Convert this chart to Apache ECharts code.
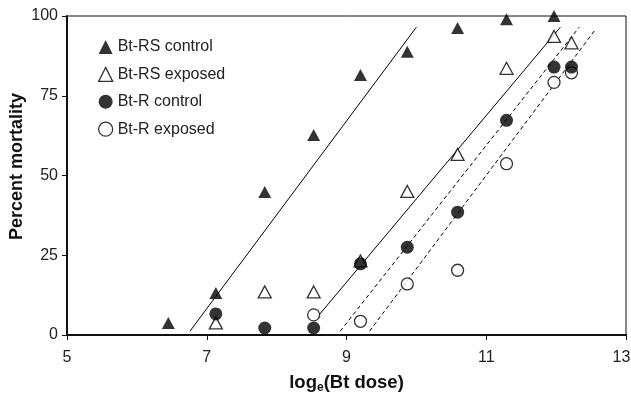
<!DOCTYPE html>
<html>
<head>
<meta charset="utf-8">
<script src="https://cdn.jsdelivr.net/npm/echarts@6/dist/echarts.min.js"></script>
<style>
    html, body { margin: 0; padding: 0; background: #fff; }
    #chart { width: 631px; height: 395px; }
</style>
</head>
<body>
<div id="chart"></div>
<script>
// Bt-RS control (filled triangles)
const rsControlX = [6.45, 7.13, 7.83, 8.53, 9.2, 9.87, 10.59, 11.29, 11.97];
const rsControlY = [3.8, 13.2, 44.8, 62.7, 81.5, 88.8, 96.2, 99, 100];
// Bt-RS exposed (open triangles)
const rsExposedX = [7.13, 7.83, 8.53, 9.2, 9.87, 10.59, 11.29, 11.97, 12.22];
const rsExposedY = [3.8, 13.5, 13.5, 23.2, 45, 56.6, 83.6, 93.6, 91.6];
// Bt-R control (filled circles)
const rControlX = [7.13, 7.83, 8.53, 9.2, 9.87, 10.59, 11.29, 11.97, 12.22];
const rControlY = [6.6, 2.2, 2.2, 22.3, 27.5, 38.5, 67.3, 84, 84];
// Bt-R exposed (open circles)
const rExposedX = [8.53, 9.2, 9.87, 10.59, 11.29, 11.97, 12.22];
const rExposedY = [6.3, 4.3, 16, 20.3, 53.7, 79.2, 82.2];

// fitted regression lines, end points [x, y]
const fitRsControl = [[6.76, 1.2], [10.0, 96.5]];
const fitRsExposed = [[8.57, 5.3], [12.06, 96.5]];
const fitRControl = [[8.91, 1.2], [12.33, 96.5]];
const fitRExposed = [[9.33, 1.2], [12.57, 96]];

const xTicks = [5, 7, 9, 11, 13];
const yTicks = [0, 25, 50, 75, 100];

const legendNames = ['Bt-RS control', 'Bt-RS exposed', 'Bt-R control', 'Bt-R exposed'];

const zip = (xs, ys) => xs.map((x, i) => [x, ys[i]]);

const chart = echarts.init(document.getElementById('chart'), null, { renderer: 'canvas' });

// 拟合线
function fitLine(points, dashed) {
    return {
        type: 'line',
        data: points,
        symbol: 'none',
        silent: true,
        lineStyle: {
            color: '#000',
            width: 1,
            type: dashed ? [4, 3] : 'solid'
        },
        z: 1
    };
}

function scatter(name, xs, ys, symbol, filled, size) {
    return {
        name: name,
        type: 'scatter',
        data: zip(xs, ys),
        symbol: symbol,
        symbolSize: size,
        itemStyle: {
            color: filled ? '#000' : '#fff',
            borderColor: '#000',
            borderWidth: filled ? 0 : 1.3
        },
        z: 3
    };
}

const option = {
    animation: false,
    textStyle: { fontFamily: 'Liberation Sans, Arial, sans-serif' },
    grid: {
        left: 67,
        right: 5,
        top: 16,
        bottom: 60,
        outerBoundsMode: 'none',
        containLabel: false,
        show: true,
        borderColor: '#111',
        borderWidth: 1
    },
    legend: {
        data: legendNames.map((n, i) => ({
            name: n,
            icon: i < 2 ? 'triangle' : 'circle',
            itemStyle: i % 2 === 0
                ? { color: '#000', borderWidth: 0 }
                : { color: '#fff', borderColor: '#000', borderWidth: 1.3 }
        })),
        orient: 'vertical',
        left: 93,
        top: 34,
        itemWidth: 14,
        itemHeight: 14,
        itemGap: 11.4,
        textStyle: {
            fontSize: 16,
            color: '#222'
        }
    },
    xAxis: {
        type: 'value',
        min: 5,
        max: 13,
        interval: 2,
        name: '{b|log}{s|e}{b|(Bt dose)}',
        nameLocation: 'middle',
        nameGap: 36,
        nameTextStyle: {
            rich: {
                b: { fontSize: 18.5, fontWeight: 'bold', color: '#111' },
                s: { fontSize: 12, fontWeight: 'bold', color: '#111', padding: [11, 0, 0, 0] }
            }
        },
        axisLine: { show: true, onZero: false, lineStyle: { color: '#111', width: 2 } },
        axisTick: { show: true, length: 5, lineStyle: { color: '#111', width: 1 } },
        axisLabel: {
            fontSize: 16,
            color: '#222',
            margin: 15,
            customValues: xTicks,
            formatter: (v) => (v === 13 ? '{r|13}' : String(v)),
            rich: {
                r: { fontSize: 16, color: '#222', padding: [0, 9, 0, 0] }
            }
        },
        splitLine: { show: false }
    },
    yAxis: {
        type: 'value',
        min: 0,
        max: 100,
        interval: 25,
        name: 'Percent mortality',
        nameLocation: 'middle',
        nameRotate: 90,
        nameGap: 41,
        nameMoveOverlap: false,
        nameTextStyle: { fontSize: 18, fontWeight: 'bold', color: '#111', padding: [0, 0, 0, 18] },
        axisLine: { show: true, onZero: false, lineStyle: { color: '#111', width: 2 } },
        axisTick: { show: true, length: 5, lineStyle: { color: '#111', width: 1 } },
        axisLabel: {
            fontSize: 16,
            color: '#222',
            margin: 9,
            customValues: yTicks
        },
        splitLine: { show: false }
    },
    series: [
        fitLine(fitRsControl, false),
        fitLine(fitRsExposed, false),
        fitLine(fitRControl, true),
        fitLine(fitRExposed, true),
        scatter('Bt-RS control', rsControlX, rsControlY, 'triangle', true, [13, 12]),
        scatter('Bt-RS exposed', rsExposedX, rsExposedY, 'triangle', false, [13, 12]),
        scatter('Bt-R exposed', rExposedX, rExposedY, 'circle', false, 12),
        scatter('Bt-R control', rControlX, rControlY, 'circle', true, 13)
    ]
};

chart.setOption(option);
</script>
</body>
</html>
